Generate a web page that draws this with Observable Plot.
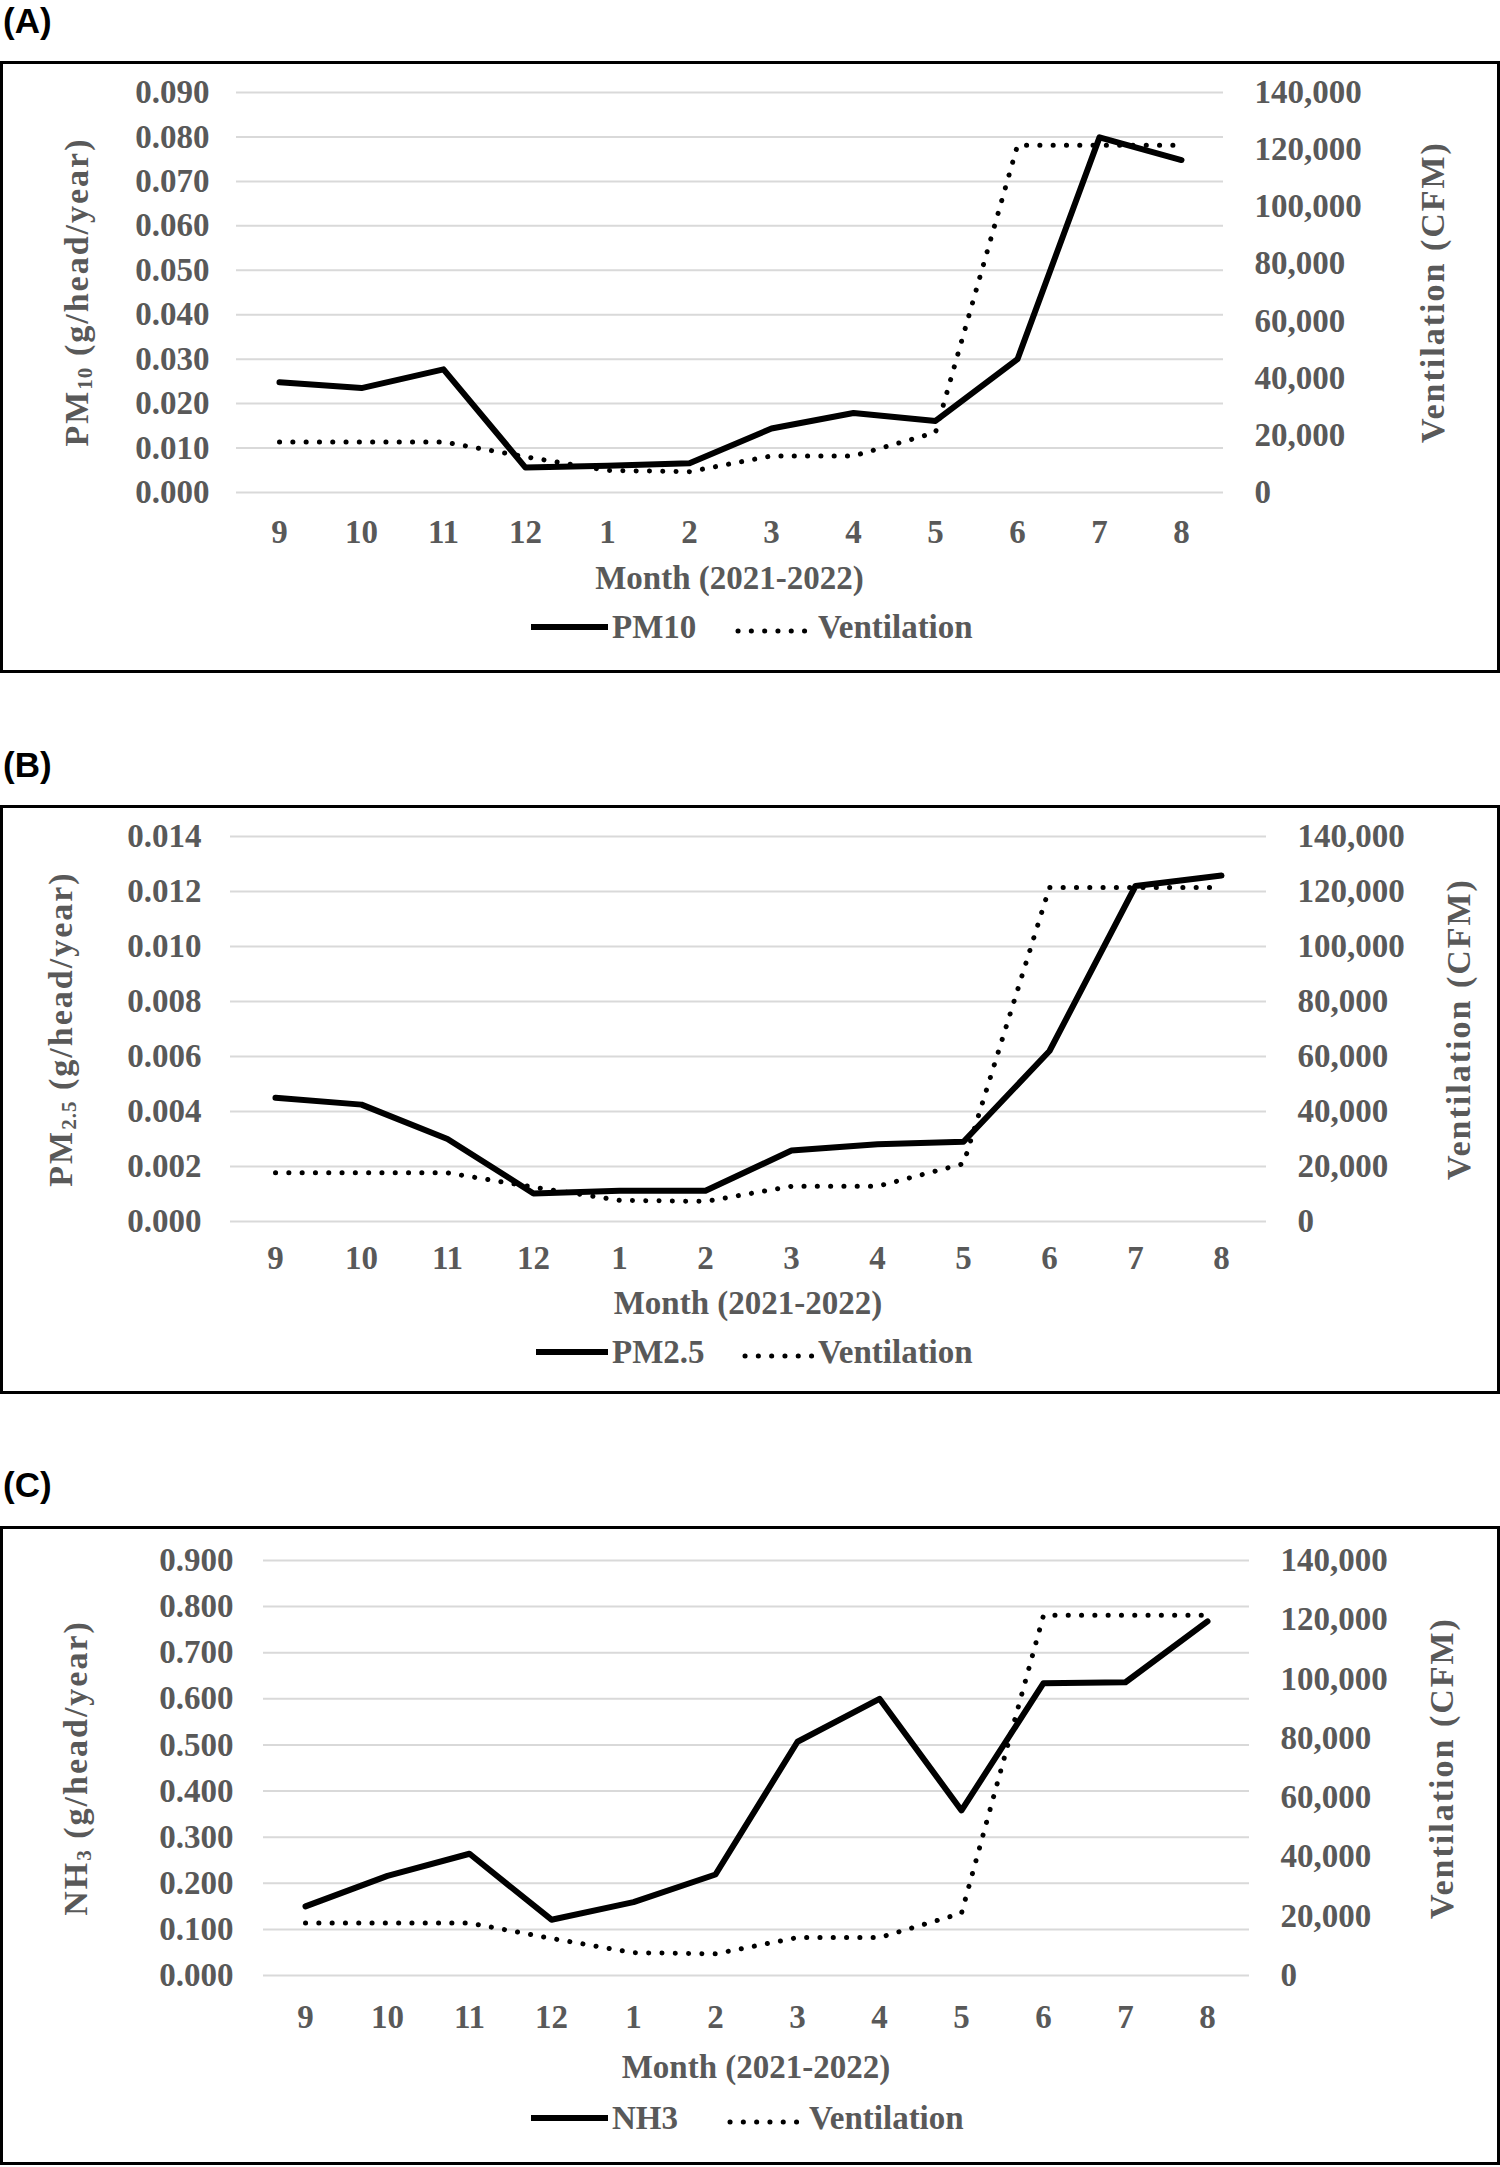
<!DOCTYPE html>
<html>
<head>
<meta charset="utf-8">
<script src="https://cdn.jsdelivr.net/npm/d3@7"></script>
<script src="https://cdn.jsdelivr.net/npm/@observablehq/plot@0.6"></script>
<style>
  html, body { margin: 0; padding: 0; background: #fff; }
  body { width: 1500px; height: 2167px; position: relative; overflow: hidden;
         font-family: 'Liberation Serif', 'Times New Roman', serif; }
  .box { position: absolute; left: 0; width: 1500px; border: 3px solid #000; box-sizing: border-box; }
  .layer { position: absolute; left: 0; }
  .txt { position: absolute; font-weight: bold; color: #595959; font-size: 33px; line-height: 1; white-space: nowrap; }
  .ytitle { position: absolute; font-weight: bold; color: #595959; font-size: 34px; line-height: 1;
            white-space: nowrap; letter-spacing: 2px; transform: translate(-50%, -50%) rotate(-90deg); }
  .plabel { position: absolute; left: 3px; font-family: 'Liberation Sans', Arial, sans-serif; font-weight: bold;
            font-size: 35px; line-height: 1; color: #000; }
  .sub { font-size: 0.62em; vertical-align: -0.22em; letter-spacing: 1px; }
</style>
</head>
<body>
<script>
// ---- Data ----
const months = ["9", "10", "11", "12", "1", "2", "3", "4", "5", "6", "7", "8"];
const ventilation = [17700, 17700, 17700, 12500, 7700, 7300, 12800, 12800, 21000, 121500, 121500, 121500];
const pm10 = [0.0248, 0.0235, 0.0277, 0.0056, 0.0060, 0.0066, 0.0144, 0.0179, 0.0161, 0.0300, 0.0799, 0.0748];
const pm25 = [0.0045, 0.00425, 0.0030, 0.00102, 0.00112, 0.00112, 0.00258, 0.00281, 0.0029, 0.0062, 0.0122, 0.01258];
const nh3 = [0.150, 0.216, 0.264, 0.121, 0.159, 0.219, 0.507, 0.600, 0.358, 0.634, 0.636, 0.768];
const pm10Ticks = [0, 0.01, 0.02, 0.03, 0.04, 0.05, 0.06, 0.07, 0.08, 0.09];
const pm25Ticks = [0, 0.002, 0.004, 0.006, 0.008, 0.010, 0.012, 0.014];
const nh3Ticks = [0, 0.1, 0.2, 0.3, 0.4, 0.5, 0.6, 0.7, 0.8, 0.9];
const ventTicks = [0, 20000, 40000, 60000, 80000, 100000, 120000, 140000];
const monthTitle = "Month (2021-2022)";
const ventTitle = "Ventilation (CFM)";

// ---- Panel layout ----
const panels = [
  { label: "(A)", labelTop: 3, series: pm10, name: "PM10", title: "PM<span class='sub'>10</span> (g/head/year)",
    ticks: pm10Ticks, boxTop: 61, boxBottom: 673, gridTop: 92, gridBottom: 492, xL: 236, xR: 1223,
    yPad: 27, xPad: 27, monthY: 578, legendY: 627, leftX: 78, rightX: 1433,
    lg: { solid: [531, 608], t1: 612, dot: [735, 809], t2: 818 } },
  { label: "(B)", labelTop: 747, series: pm25, name: "PM2.5", title: "PM<span class='sub'>2.5</span> (g/head/year)",
    ticks: pm25Ticks, boxTop: 805, boxBottom: 1394, gridTop: 836, gridBottom: 1221, xL: 230, xR: 1266,
    yPad: 29, xPad: 24, monthY: 1303, legendY: 1352, leftX: 62, rightX: 1459,
    lg: { solid: [536, 608], t1: 612, dot: [742, 813], t2: 818 } },
  { label: "(C)", labelTop: 1467, series: nh3, name: "NH3", title: "NH<span class='sub'>3</span> (g/head/year)",
    ticks: nh3Ticks, boxTop: 1526, boxBottom: 2165, gridTop: 1560, gridBottom: 1975, xL: 263, xR: 1249,
    yPad: 30, xPad: 29, monthY: 2067, legendY: 2118, leftX: 77, rightX: 1442,
    lg: { solid: [531, 608], t1: 612, dot: [727, 799], t2: 809 } }
];

const baseStyle = {
  fontFamily: "'Liberation Serif', 'Times New Roman', serif",
  fontSize: "33px",
  fontWeight: "bold",
  color: "#595959",
  overflow: "visible"
};

function add(el) { document.body.appendChild(el); return el; }
function div(cls, css, html) {
  const d = document.createElement("div");
  d.className = cls;
  Object.assign(d.style, css);
  if (html != null) d.innerHTML = html;
  return add(d);
}

for (const p of panels) {
  const H = p.boxBottom - p.boxTop;
  const common = {
    width: 1500, height: H,
    marginTop: p.gridTop - p.boxTop, marginBottom: p.boxBottom - p.gridBottom,
    marginLeft: p.xL, marginRight: 1500 - p.xR,
    x: { type: "point", domain: months, padding: 0.5, axis: null }
  };
  const data = months.map((m, i) => ({ month: m, value: p.series[i] }));
  const vdata = months.map((m, i) => ({ month: m, value: ventilation[i] }));

  // box
  div("box", { top: p.boxTop + "px", height: H + "px" });
  // panel letter
  div("plabel", { top: p.labelTop + "px" }, p.label);

  // primary plot
  const base = Plot.plot({
    ...common,
    y: { domain: [0, d3.max(p.ticks)], axis: null },
    style: { ...baseStyle, background: "transparent" },
    marks: [
      Plot.ruleY(p.ticks, { stroke: "#d9d9d9", strokeWidth: 2 }),
      Plot.axisY({ ticks: p.ticks, tickFormat: d3.format(".3f"), tickSize: 0, tickPadding: p.yPad, label: null }),
      Plot.axisX({ tickSize: 0, tickPadding: p.xPad, label: null }),
      Plot.line(data, { x: "month", y: "value", stroke: "#000", strokeWidth: 6,
                        strokeLinejoin: "round", strokeLinecap: "round" })
    ]
  });
  const l1 = div("layer", { top: p.boxTop + "px" });
  l1.appendChild(base);

  // ventilation overlay (secondary axis)
  const vent = Plot.plot({
    ...common,
    y: { domain: [0, 140000], axis: null },
    style: { ...baseStyle, background: "transparent" },
    marks: [
      Plot.axisY({ anchor: "right", ticks: ventTicks, tickFormat: d3.format(","), tickSize: 0,
                   tickPadding: 31, label: null }),
      Plot.line(vdata, { x: "month", y: "value", curve: "linear", stroke: "#000", strokeWidth: 5,
                         strokeDasharray: "0.1 13.2", strokeLinecap: "round", strokeLinejoin: "round" })
    ]
  });
  const l2 = div("layer", { top: p.boxTop + "px" });
  l2.appendChild(vent);

  // axis titles
  div("ytitle", { left: p.leftX + "px", top: ((p.gridTop + p.gridBottom) / 2) + "px" }, p.title);
  div("ytitle", { left: p.rightX + "px", top: ((p.gridTop + p.gridBottom) / 2) + "px" }, ventTitle);
  div("txt", { left: ((p.xL + p.xR) / 2) + "px", top: p.monthY + "px", transform: "translate(-50%,-50%)" }, monthTitle);

  // legend
  div("layer", { left: p.lg.solid[0] + "px", top: (p.legendY - 3) + "px", width: (p.lg.solid[1] - p.lg.solid[0]) + "px",
                 height: "6px", background: "#000" });
  div("txt", { left: p.lg.t1 + "px", top: p.legendY + "px", transform: "translateY(-50%)" }, p.name);
  const w = p.lg.dot[1] - p.lg.dot[0];
  div("layer", { left: p.lg.dot[0] + "px", top: (p.legendY - 5) + "px" },
      `<svg width="${w + 6}" height="10"><line x1="3" y1="5" x2="${w + 3}" y2="5" stroke="#000" stroke-width="5" stroke-linecap="round" stroke-dasharray="0.1 13.2"/></svg>`);
  div("txt", { left: p.lg.t2 + "px", top: p.legendY + "px", transform: "translateY(-50%)" }, "Ventilation");
}
</script>
</body>
</html>
